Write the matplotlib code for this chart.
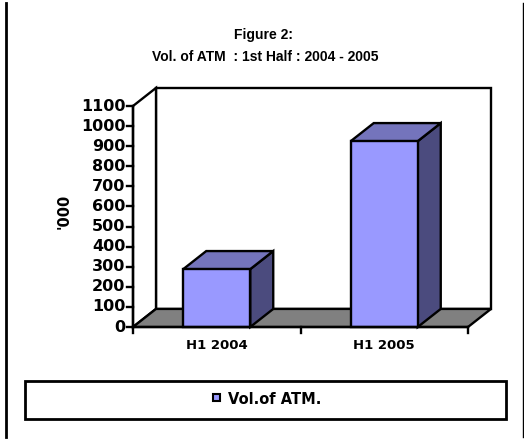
import matplotlib
matplotlib.use('Agg')
import matplotlib.pyplot as plt
from matplotlib.patches import Polygon, Rectangle
from matplotlib.lines import Line2D

# chart data
categories = ['H1 2004', 'H1 2005']
values = [288, 925]
yticks = list(range(0, 1101, 100))
series_name = 'Vol.of ATM.'
title_lines = ['Figure 2:', 'Vol. of ATM  : 1st Half : 2004 - 2005']

W, H = 524, 440
fig = plt.figure(figsize=(W / 100, H / 100), dpi=100)
fig.patch.set_facecolor('white')

def fx(px):
    return px / W

def fy(py):
    return 1 - py / H

# front plane of the 3d box
ax = fig.add_axes([fx(133), fy(327), fx(468) - fx(133), fy(106) - fy(327)])
ax.set_xlim(-0.5, 1.5)
ax.set_ylim(0, 1100)
ax.axis('off')

# depth of the 3d effect in data units
dx = 23 / 167.5
dy = 90
bw = 0.4
front = '#9999FF'
top_c = '#7474BC'
side_c = '#4B4B7E'
lw = 1.7

def poly(pts, fc, z=1):
    ax.add_patch(Polygon(pts, closed=True, facecolor=fc, edgecolor='black',
                         linewidth=lw, clip_on=False, zorder=z, joinstyle='miter'))

x0, x1 = -0.5, 1.5
# back wall, left wall, floor
poly([(x0 + dx, dy), (x1 + dx, dy), (x1 + dx, 1100 + dy), (x0 + dx, 1100 + dy)], 'white')
poly([(x0, 0), (x0 + dx, dy), (x0 + dx, 1100 + dy), (x0, 1100)], 'white')
poly([(x0, 0), (x1, 0), (x1 + dx, dy), (x0 + dx, dy)], '#808080')

# bars
for i, v in enumerate(values):
    l, r = i - bw / 2, i + bw / 2
    poly([(r, 0), (r + dx, dy), (r + dx, v + dy), (r, v)], side_c, 3)
    poly([(l, v), (r, v), (r + dx, v + dy), (l + dx, v + dy)], top_c, 3)
    poly([(l, 0), (r, 0), (r, v), (l, v)], front, 4)

# axes lines and ticks
ax.plot([x0, x0], [0, 1100], color='black', lw=lw, clip_on=False, zorder=5)
ax.plot([x0, x1], [0, 0], color='black', lw=lw, clip_on=False, zorder=5)
tlen = 0.035
for t in yticks:
    ax.plot([x0 - tlen, x0], [t, t], color='black', lw=lw, clip_on=False, zorder=5)
    ax.text(x0 - tlen - 0.01, t, str(t), ha='right', va='center',
            fontsize=11.5, fontweight='bold', family='DejaVu Sans')
for xt in [-0.5, 0.5, 1.5]:
    ax.plot([xt, xt], [0, -30], color='black', lw=lw, clip_on=False, zorder=5)
for i, c in enumerate(categories):
    ax.text(i, -90, c, ha='center', va='center', fontsize=9.5,
            fontweight='bold', family='DejaVu Sans')

fig.text(fx(64), fy(211), "'000", rotation=90, ha='center', va='center',
         fontsize=10.5, fontweight='bold', family='DejaVu Sans')

fig.text(fx(263), fy(35), title_lines[0], ha='center', va='center', fontsize=10,
         fontweight='bold', family='Liberation Sans')
fig.text(fx(265), fy(57), title_lines[1], ha='center', va='center', fontsize=10,
         fontweight='bold', family='Liberation Sans')

# legend box
fig.patches.append(Rectangle((fx(25), fy(419)), fx(506) - fx(25), fy(381) - fy(419),
                             transform=fig.transFigure, facecolor='white',
                             edgecolor='black', linewidth=2))
fig.patches.append(Rectangle((fx(213), fy(401)), fx(7), fy(0) - fy(7),
                             transform=fig.transFigure, facecolor=front,
                             edgecolor='black', linewidth=1.5))
fig.text(fx(228), fy(399), series_name, ha='left', va='center', fontsize=10.5,
         fontweight='bold', family='DejaVu Sans')

# page borders
fig.lines.append(Line2D([fx(6), fx(6)], [fy(3), fy(437)], transform=fig.transFigure,
                        color='black', lw=2))
fig.lines.append(Line2D([fx(523), fx(523)], [fy(3), fy(437)], transform=fig.transFigure,
                        color='black', lw=1))

fig.savefig('out.png', dpi=100)
